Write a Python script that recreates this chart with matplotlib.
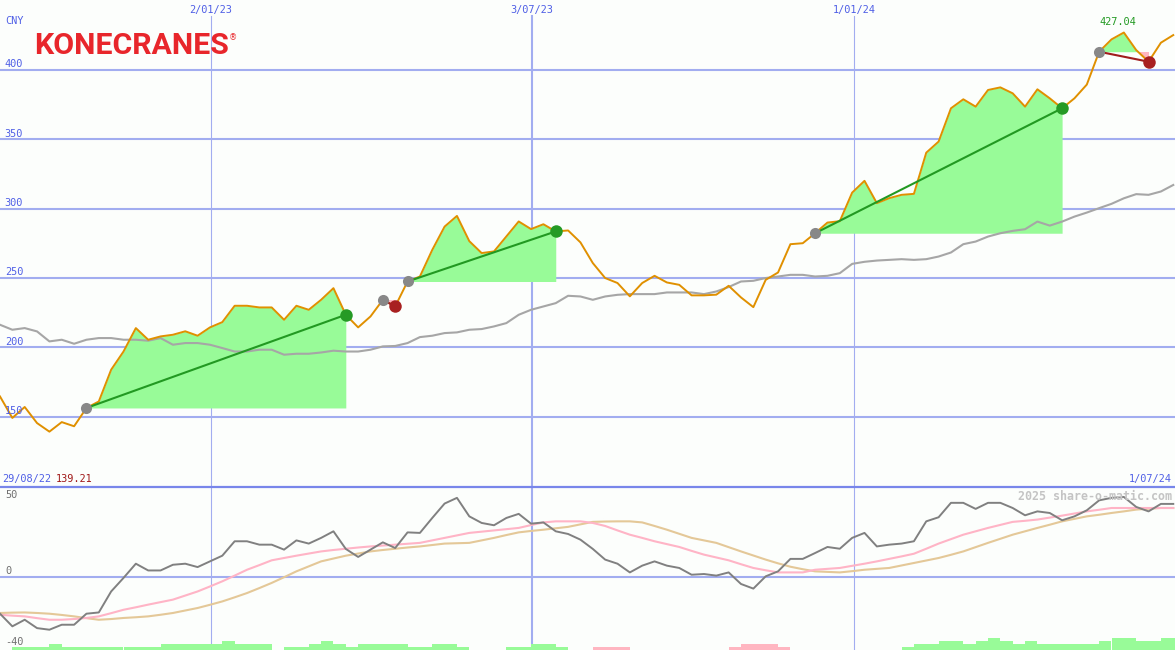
import numpy as np
import matplotlib.pyplot as plt
from matplotlib.lines import Line2D

W, H = 1175, 650

# weekly closes (CNY)
price = [164.6, 149.1, 157.0, 145.4, 139.21, 146.1, 143.1, 156.3, 161.0, 183.9,
         197.0, 213.9, 205.5, 207.9, 209.1, 211.6, 208.4, 214.4, 218.2, 230.0,
         230.0, 228.8, 228.8, 219.9, 230.0, 227.1, 234.3, 242.7, 223.5, 214.4,
         222.3, 234.3, 229.5, 247.5, 251.1, 270.3, 287.1, 294.8, 276.6, 268.0,
         269.2, 280.0, 290.8, 285.3, 288.8, 283.6, 284.3, 275.7, 260.8, 250.0,
         246.4, 236.8, 246.4, 251.6, 246.8, 245.1, 237.5, 237.5, 238.0, 244.4,
         236.0, 229.0, 248.7, 254.0, 274.4, 275.1, 282.3, 290.0, 291.0, 311.6,
         320.1, 304.0, 307.6, 310.0, 310.7, 340.4, 348.4, 372.4, 378.9, 373.6,
         385.6, 387.5, 383.2, 373.6, 386.1, 379.6, 372.4, 379.6, 389.5, 413.2,
         422.1, 427.04, 414.4, 406.0, 419.7, 425.2]

# moving average (grey)
avg = [216.3, 212.7, 213.9, 211.5, 204.3, 205.5, 202.6, 205.5, 206.7, 206.7,
       205.5, 205.5, 204.8, 206.7, 201.9, 203.1, 203.1, 201.9, 199.5, 197.0,
       197.0, 198.3, 198.3, 194.7, 195.4, 195.4, 196.3, 197.6, 197.0, 197.0,
       198.3, 200.7, 201.0, 203.1, 207.4, 208.4, 210.3, 210.8, 212.7, 213.2,
       215.1, 217.5, 223.5, 227.1, 229.5, 231.9, 237.2, 236.7, 234.3, 236.7,
       237.9, 238.4, 238.4, 238.4, 239.6, 239.6, 239.6, 238.4, 240.3, 243.5,
       247.5, 248.0, 250.0, 251.1, 252.3, 252.3, 251.1, 251.6, 253.5, 260.2,
       261.7, 262.6, 263.1, 263.6, 263.1, 263.6, 265.5, 268.4, 274.4, 276.3,
       279.9, 282.3, 284.0, 285.2, 290.7, 287.8, 290.7, 294.3, 297.2, 300.4,
       303.5, 307.5, 310.5, 310.0, 312.4, 317.1]

# lower panel oscillator
osc = [-20.8, -27.9, -24.2, -28.9, -29.8, -27.0, -27.0, -20.8, -20.1, -8.3,
       -0.7, 7.3, 3.5, 3.5, 6.7, 7.3, 5.4, 8.6, 11.8, 19.9,
       19.9, 18.0, 18.0, 15.2, 20.4, 18.6, 21.8, 25.5, 15.6, 11.1,
       15.2, 19.3, 16.1, 24.9, 24.6, 33.0, 41.1, 44.3, 33.9, 30.2,
       28.9, 33.0, 35.3, 29.8, 30.5, 25.5, 24.0, 20.8, 15.6, 9.6,
       7.3, 2.4, 6.2, 8.6, 6.2, 4.9, 1.1, 1.5, 0.6, 2.4,
       -4.1, -6.7, 0.2, 3.0, 10.0, 10.0, 13.3, 16.7, 15.7, 21.8,
       24.6, 17.0, 18.0, 18.6, 19.9, 31.1, 33.4, 41.5, 41.5, 38.1,
       41.5, 41.5, 38.6, 34.5, 36.7, 35.8, 31.7, 33.9, 37.3, 42.9,
       44.3, 44.8, 39.2, 36.7, 40.9, 40.9]

osc_fast = [-21.4, -21.9, -22.3, -23.3, -24.2, -24.2, -23.8, -23.2, -22.3, -20.5,
            -18.6, -17.2, -15.7, -14.3, -12.9, -10.6, -8.3, -5.5, -2.6, 0.6,
            3.9, 6.5, 9.2, 10.5, 11.8, 13.0, 14.2, 15.0, 15.7, 16.4,
            17.0, 17.5, 18.0, 18.5, 19.0, 20.4, 21.8, 23.2, 24.6, 25.3,
            26.0, 26.7, 27.4, 29.0, 30.5, 31.1, 31.1, 31.1, 30.2, 28.5,
            26.0, 23.6, 21.8, 19.9, 18.3, 16.7, 14.5, 12.4, 10.8, 9.2,
            7.0, 4.9, 3.6, 2.4, 2.4, 2.4, 3.9, 4.4, 4.9, 6.1,
            7.3, 8.6, 10.0, 11.4, 12.9, 15.7, 18.6, 21.1, 23.6, 25.5,
            27.4, 29.1, 30.8, 31.4, 32.1, 33.2, 34.3, 35.5, 36.7, 37.6,
            38.6, 38.6, 38.6, 38.6, 38.6, 38.6]

osc_slow = [-20.4, -20.2, -20.1, -20.4, -20.8, -21.5, -22.3, -23.3, -24.2, -23.8,
            -23.2, -22.8, -22.3, -21.4, -20.4, -19.0, -17.6, -15.8, -13.9, -11.6,
            -9.2, -6.4, -3.5, -0.3, 3.0, 5.8, 8.6, 10.2, 11.8, 13.0,
            14.2, 15.0, 15.7, 16.4, 17.0, 17.8, 18.6, 18.8, 19.0, 20.4,
            21.8, 23.4, 24.9, 25.7, 26.4, 27.2, 28.0, 29.4, 30.8, 31.0,
            31.1, 31.1, 30.5, 28.5, 26.4, 24.1, 21.8, 20.4, 19.0, 16.6,
            14.2, 11.9, 9.6, 7.5, 5.6, 4.2, 3.0, 2.7, 2.4, 3.1,
            3.9, 4.4, 4.9, 6.3, 7.7, 9.1, 10.5, 12.3, 14.2, 16.6,
            19.0, 21.3, 23.6, 25.5, 27.4, 29.2, 31.1, 32.5, 33.9, 34.8,
            35.8, 36.7, 37.7, 38.2, 38.6, 38.6]

# histogram strip at the bottom (+ green, - pink)
bars = [0, 1, 1, 1, 2, 1, 1, 1, 1, 1,
        1, 1, 1, 2, 2, 2, 2, 2, 3, 2,
        2, 2, 0, 1, 1, 2, 3, 2, 1, 2,
        2, 2, 2, 1, 1, 2, 2, 1, 0, 0,
        0, 1, 1, 2, 2, 1, 0, 0, -1, -1,
        -1, 0, 0, 0, 0, 0, 0, 0, 0, -1,
        -2, -2, -2, -1, 0, 0, 0, 0, 0, 0,
        0, 0, 0, 1, 2, 2, 3, 3, 2, 3,
        4, 3, 2, 3, 2, 2, 2, 2, 2, 3,
        4, 4, 3, 3, 4, 4]

entries = [7, 31, 33, 66, 89]
exits = [28, 32, 45, 86, 93]

price_ticks = [150, 200, 250, 300, 350, 400]
osc_ticks = [50, 0, -40]
date_labels = ['2/01/23', '3/07/23', '1/01/24']
date_pos = [17.08, 43.08, 69.15]
first_date, last_date = '29/08/22', '1/07/24'

BG = '#fcfefc'
GRID = '#a2adf0'
BLUE = '#4f5fe6'
mono = 'DejaVu Sans Mono'

fig = plt.figure(figsize=(W / 100, H / 100), dpi=100, facecolor=BG)
ax = fig.add_axes([0, 163 / H, 1, 487 / H])
ax2 = fig.add_axes([0, 0, 1, 163 / H])
for a in (ax, ax2):
    a.set_facecolor(BG)
    a.set_axis_off()
    a.set_xlim(0, W / 12.35)

ax.set_ylim(99.3, 450.5)
ax2.set_ylim(-41.2, 50.4)

x = np.arange(len(price))
p = np.array(price)

# grid
for t in price_ticks:
    ax.axhline(t, color=GRID, lw=1.5, zorder=1)
    ax.text(0.004, t + 0.6, str(t), transform=ax.get_yaxis_transform(),
            fontsize=7.4, family=mono, color=BLUE, va='bottom', zorder=6)
for d, lab, lw in zip(date_pos, date_labels, [0.8, 1.5, 0.8]):
    ax.axvline(d, ymax=1 - 16 / 487, color=GRID, lw=lw, zorder=1)
    ax2.axvline(d, color=GRID, lw=lw, zorder=1)
    fig.text(d * 12.35 / W, 1 - 9.5 / H, lab, fontsize=7.4, family=mono,
             color=BLUE, ha='center', va='center')

ax2.axhline(0, color=GRID, lw=1.5, zorder=1)
for t, yy in zip(osc_ticks, [495.5, 570.5, 642]):
    fig.text(5 / W, 1 - yy / H, str(t), fontsize=7.4, family=mono,
             color='#707070', va='center')

fig.add_artist(Line2D([0, 1], [1 - 487 / H] * 2, transform=fig.transFigure,
                      color='#7886ea', lw=1.6))

# trades
for e, q in zip(entries, exits):
    xs = x[e:q + 1]
    ps = p[e:q + 1]
    base = p[e]
    ax.fill_between(xs, base, ps, where=ps >= base, interpolate=True,
                    color='#98fb98', lw=0, zorder=2)
    ax.fill_between(xs, base, ps, where=ps < base, interpolate=True,
                    color='#ffb6c1', lw=0, zorder=2)

ax.plot(x, avg, color='#a6a6a6', lw=1.5, zorder=3)
ax.plot(x, price, color='#e09000', lw=1.4, zorder=4)

for e, q in zip(entries, exits):
    win = p[q] > p[e]
    ax.plot([e, q], [p[e], p[q]], color='#229922' if win else '#a01c1c',
            lw=1.5, zorder=5)
    ax.plot(e, p[e], 'o', ms=8, color='#888888', mec='none', zorder=6)
    ax.plot(q, p[q], 'o', ms=9, color='#259a25' if win else '#a82020',
            mec='none', zorder=7)

top = int(np.argmax(p))
ax.text(top - 0.5, p[top] + 4, f'{p[top]:.2f}', fontsize=7.4, family=mono,
        color='#239a23', ha='center', va='bottom', zorder=8)

# lower panel
b = np.array(bars) * 1.7
ax2.bar(x, np.abs(b), width=1, align='edge', bottom=-41.2,
        color=['#98fb98' if v >= 0 else '#ffb6c1' for v in b], lw=0, zorder=2)
ax2.plot(x, osc_slow, color='#e4c898', lw=1.5, zorder=3)
ax2.plot(x, osc_fast, color='#ffb4c6', lw=1.5, zorder=3)
ax2.plot(x, osc, color='#808080', lw=1.4, zorder=4)

# labels
fig.text(5 / W, 1 - 21 / H, 'CNY', fontsize=7.4, family=mono, color=BLUE, va='center')
fig.text(2 / W, 1 - 479 / H, first_date, fontsize=7.4, family=mono, color=BLUE, va='center')
fig.text(56 / W, 1 - 479 / H, f'{min(price):.2f}', fontsize=7.4, family=mono,
         color='#a01818', va='center')
fig.text(1172 / W, 1 - 479 / H, last_date, fontsize=7.4, family=mono, color=BLUE,
         ha='right', va='center')
fig.text(1172 / W, 1 - 496 / H, '2025 share-o-matic.com', fontsize=8.4, family=mono,
         weight='bold', color='#c4c4c4', ha='right', va='center')
fig.text(34 / W, 1 - 46 / H, 'KONECRANES', fontsize=21.8, family='Roboto',
         weight='bold', color='#e8262b', va='center')
fig.text(229 / W, 1 - 38 / H, '\u00ae', fontsize=6, color='#e8262b', va='center')

fig.savefig('out.png', dpi=100, facecolor=BG)
